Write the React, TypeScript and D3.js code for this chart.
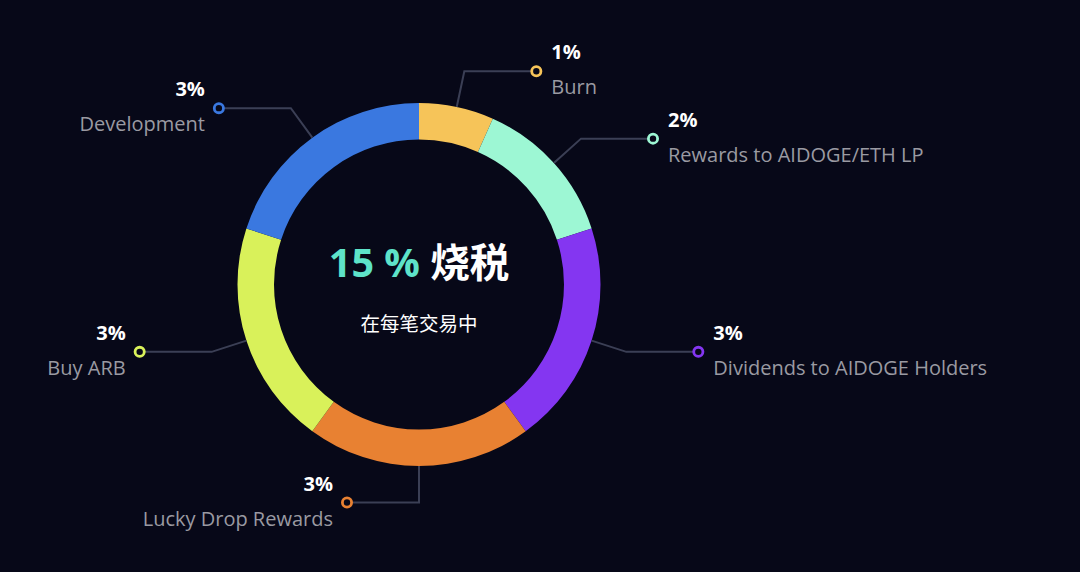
import React from "react";
import * as d3 from "d3";

const categories = ["Burn", "Rewards to AIDOGE/ETH LP", "Dividends to AIDOGE Holders", "Lucky Drop Rewards", "Buy ARB", "Development"];
const values = [1, 2, 3, 3, 3, 3];
const colors = ["#f6c459", "#9df7d4", "#8436f1", "#e88132", "#d9f15a", "#3a78e0"];
const titleNumber = "15 %";
const titleText = "烧税";
const subtitle = "在每笔交易中";

const W = 1080, H = 572;
const cx = 419, cy = 284.5;
const outerR = 181.5, innerR = 145;
const elbowR = 218;
const hLen = 72;
const BG = "#070818";

export default function App() {
  const pie = d3.pie<number>().sort(null).startAngle(0).endAngle(2 * Math.PI).value((d) => d);
  const arcs = pie(values);
  const arc = d3.arc<d3.PieArcDatum<number>>().innerRadius(innerR).outerRadius(outerR);
  const total = d3.sum(values);
  const font = "'Open Sans', 'Noto Sans CJK SC', sans-serif";

  return (
    <svg width={W} height={H} style={{ position: "absolute", left: 0, top: 0, background: BG }}>
      <rect x={0} y={0} width={W} height={H} fill={BG} />
      <g transform={`translate(${cx},${cy})`}>
        {arcs.map((a, i) => (
          <path key={i} d={arc(a) || ""} fill={colors[i]} />
        ))}
        {arcs.map((a, i) => {
          const mid = (a.startAngle + a.endAngle) / 2;
          const sx = Math.sin(mid) * outerR, sy = -Math.cos(mid) * outerR;
          const ex = Math.sin(mid) * elbowR, ey = -Math.cos(mid) * elbowR;
          const right = mid < Math.PI - 1e-6;
          const dir = right ? 1 : -1;
          const mx = ex + dir * hLen;
          const pct = Math.round((values[i] / total) * 15) + "%";
          const tx = mx + dir * (right ? 15 : 14);
          return (
            <g key={"l" + i}>
              <polyline points={`${sx},${sy} ${ex},${ey} ${mx},${ey}`} fill="none" stroke="#3b3f55" strokeWidth={2} />
              <circle cx={mx} cy={ey} r={4.6} fill={BG} stroke={colors[i]} strokeWidth={2.8} />
              <text x={tx} y={ey - 12} textAnchor={right ? "start" : "end"} fill="#ffffff" fontWeight="bold" fontSize={20} fontFamily={font}>{pct}</text>
              <text x={tx} y={ey + 23} textAnchor={right ? "start" : "end"} fill="#9a9aa2" fontSize={20} fontFamily={font}>{categories[i]}</text>
            </g>
          );
        })}
        <text x={0} y={-8} textAnchor="middle" fontSize={39.5} fontWeight="bold" fontFamily={font}>
          <tspan fill="#5ee3c9">{titleNumber}</tspan>
          <tspan fill="#ffffff"> {titleText}</tspan>
        </text>
        <text x={0} y={46} textAnchor="middle" fontSize={19.5} fill="#ffffff" fontFamily={font}>{subtitle}</text>
      </g>
    </svg>
  );
}
